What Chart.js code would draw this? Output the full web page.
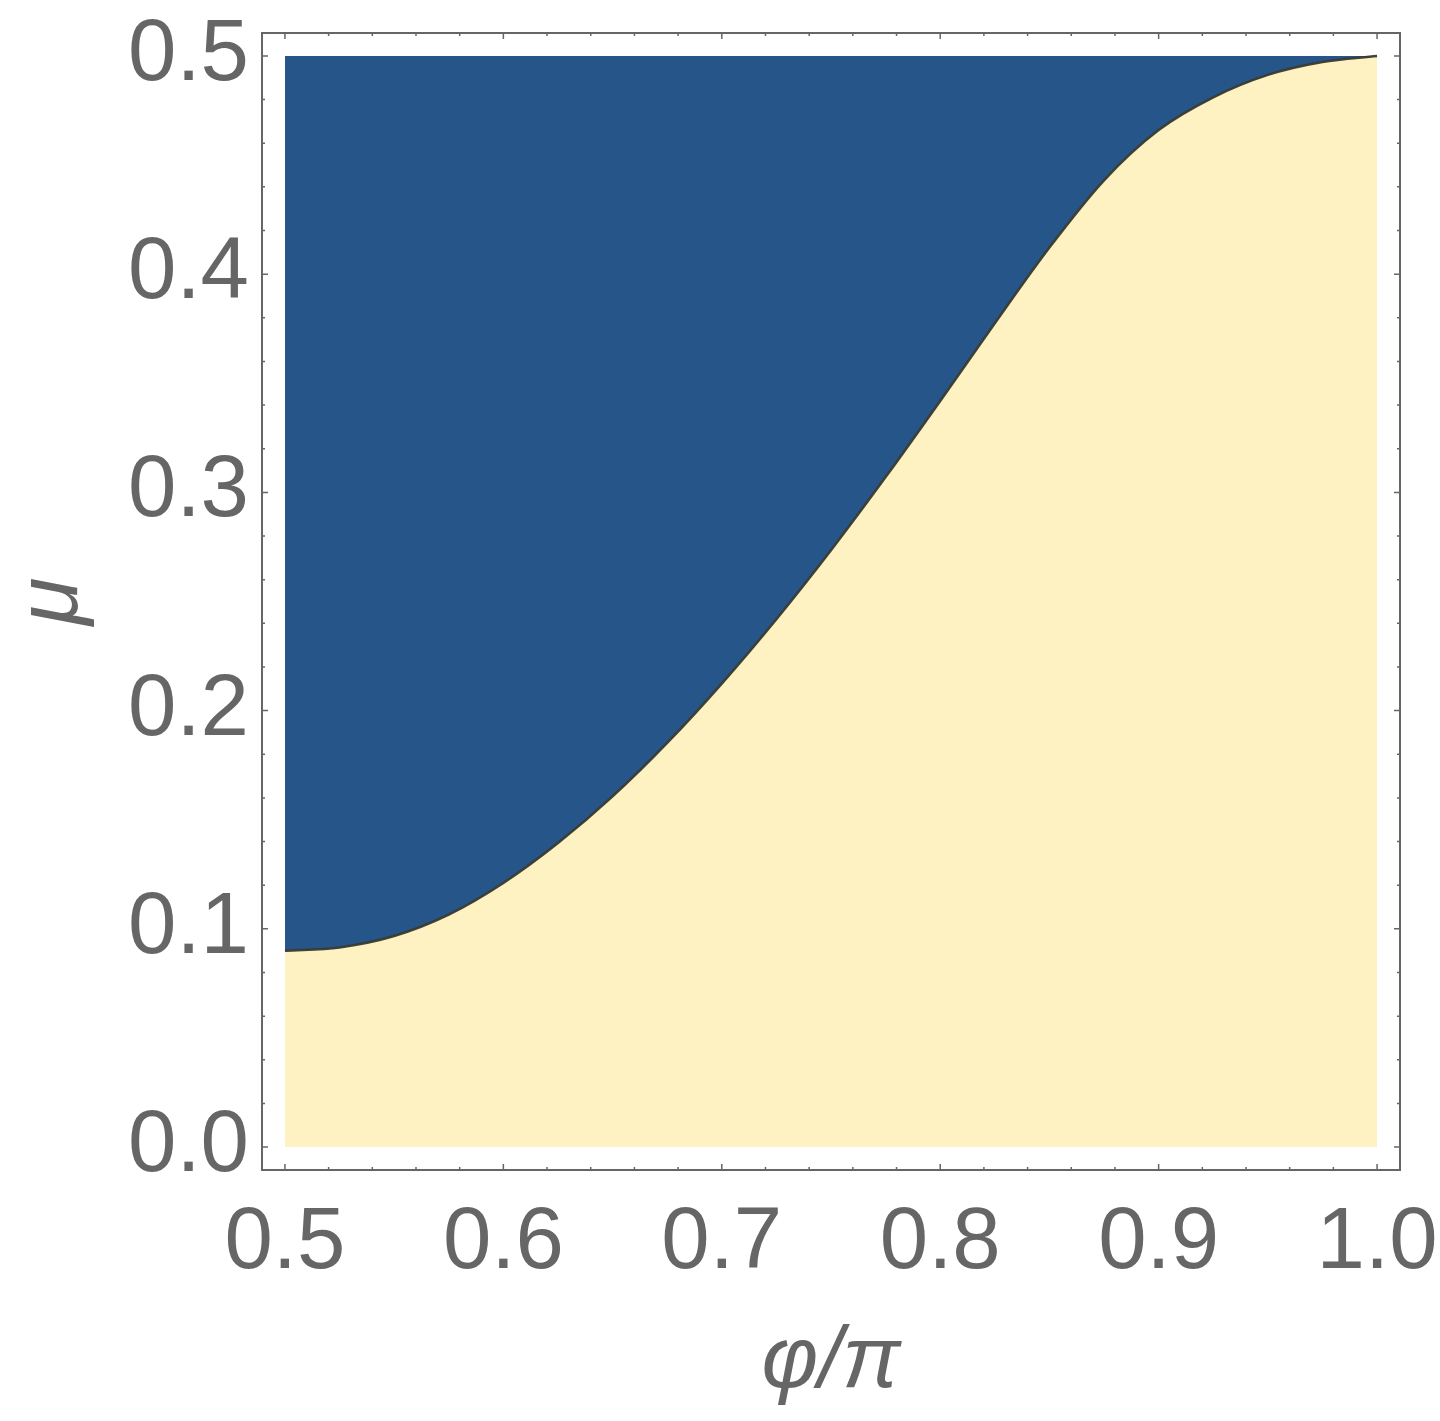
<!DOCTYPE html>
<html>
<head>
<meta charset="utf-8">
<script src="https://cdn.jsdelivr.net/npm/chart.js@4.4.1/dist/chart.umd.min.js"></script>
<style>
  html, body { margin: 0; padding: 0; background: #fff; }
  #wrap { width: 1440px; height: 1421px; position: relative; }
</style>
</head>
<body>
<div id="wrap"><canvas id="phase"></canvas></div>
<script>
// boundary curve mu(phi/pi)
const phiOverPi = [0.5, 0.525, 0.55, 0.575, 0.6, 0.625, 0.65, 0.675, 0.7, 0.725, 0.75,
  0.775, 0.8, 0.825, 0.85, 0.875, 0.9, 0.925, 0.95, 0.975, 1.0];
const muBoundary = [0.0900, 0.0915, 0.0967, 0.1065, 0.1210, 0.1393, 0.1607, 0.1852, 0.2124, 0.2419, 0.2735,
  0.3070, 0.3419, 0.3775, 0.4122, 0.4430, 0.4660, 0.4810, 0.4913, 0.4972, 0.5000];
const muMax = 0.5;

const xTickValues = [0.5, 0.6, 0.7, 0.8, 0.9, 1.0];
const yTickValues = [0.0, 0.1, 0.2, 0.3, 0.4, 0.5];

const blue = '#265589';
const cream = '#fef2c2';
const gray = '#666666';
const fontFamily = '"Liberation Sans", Arial, sans-serif';

const curvePoints = phiOverPi.map((x, i) => ({ x: x, y: muBoundary[i] }));
const topPoints = phiOverPi.map(x => ({ x: x, y: muMax }));

// frame with small inward ticks on all four sides (Mathematica style)
const framePlugin = {
  id: 'frame',
  afterDatasetsDraw(chart) {
    const { ctx, chartArea: a, scales: { x, y } } = chart;
    ctx.save();
    ctx.strokeStyle = gray;
    ctx.lineWidth = 2;
    ctx.strokeRect(a.left, a.top, a.right - a.left, a.bottom - a.top);
    ctx.lineWidth = 1.5;
    for (let i = 0; i <= 25; i++) {
      const major = i % 5 === 0;
      const len = major ? 6 : 3;
      const px = x.getPixelForValue(0.5 + i * 0.02);
      const py = y.getPixelForValue(i * 0.02);
      ctx.beginPath();
      ctx.moveTo(px, a.bottom); ctx.lineTo(px, a.bottom - len);
      ctx.moveTo(px, a.top); ctx.lineTo(px, a.top + len);
      ctx.moveTo(a.left, py); ctx.lineTo(a.left + len, py);
      ctx.moveTo(a.right, py); ctx.lineTo(a.right - len, py);
      ctx.stroke();
    }
    ctx.restore();
  }
};

const data = {
  datasets: [
    {
      label: 'boundary',
      data: curvePoints,
      borderColor: 'rgba(55,58,50,0.95)',
      borderWidth: 2.5,
      backgroundColor: cream,
      fill: 'origin',
      pointRadius: 0,
      cubicInterpolationMode: 'monotone'
    },
    {
      label: 'upper',
      data: topPoints,
      borderWidth: 0,
      borderColor: blue,
      backgroundColor: blue,
      fill: 0,
      pointRadius: 0
    }
  ]
};

const config = {
  type: 'line',
  data: data,
  options: {
    responsive: true,
    maintainAspectRatio: false,
    animation: false,
    layout: { padding: { top: 33, right: 40, left: 0, bottom: 0 } },
    plugins: { legend: { display: false }, tooltip: { enabled: false } },
    scales: {
      x: {
        type: 'linear',
        min: 0.4895,
        max: 1.0105,
        afterBuildTicks: s => { s.ticks = xTickValues.map(v => ({ value: v })); },
        afterFit: s => { s.height = 251; s.paddingLeft = 0; s.paddingRight = 0; },
        grid: { display: false },
        border: { display: false },
        ticks: {
          color: gray,
          font: { family: fontFamily, size: 87 },
          padding: 14,
          maxRotation: 0,
          autoSkip: false,
          callback: v => Number(v).toFixed(1)
        },
        title: {
          display: true,
          text: 'φ/π',
          color: gray,
          font: { family: fontFamily, size: 87, style: 'italic' },
          padding: { top: 0, bottom: 6 }
        }
      },
      y: {
        type: 'linear',
        min: -0.0105,
        max: 0.5105,
        afterBuildTicks: s => { s.ticks = yTickValues.map(v => ({ value: v })); },
        afterFit: s => { s.width = 262; s.paddingTop = 0; s.paddingBottom = 0; },
        grid: { display: false },
        border: { display: false },
        ticks: {
          color: gray,
          font: { family: fontFamily, size: 87 },
          padding: 5,
          autoSkip: false,
          callback: v => Number(v).toFixed(1)
        },
        title: {
          display: true,
          text: 'μ',
          color: gray,
          font: { family: fontFamily, size: 87, style: 'italic' },
          padding: { top: 1, bottom: 0 }
        }
      }
    }
  },
  plugins: [framePlugin]
};

new Chart(document.getElementById('phase'), config);
</script>
</body>
</html>
